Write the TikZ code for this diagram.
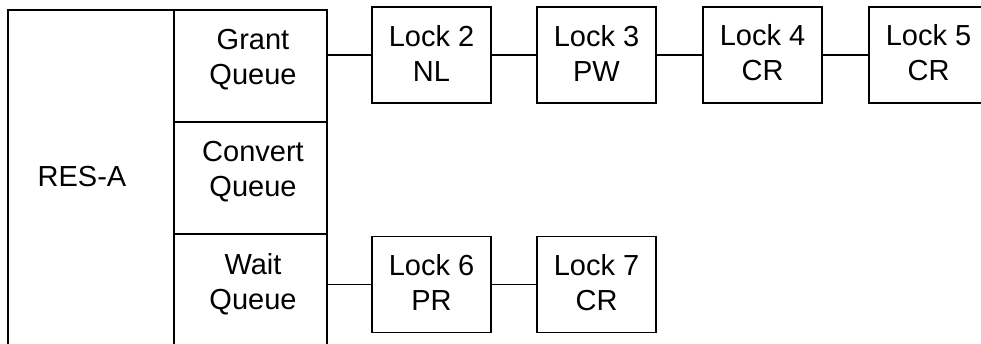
\documentclass[tikz,border=0pt]{standalone}
\usepackage{fontspec}
\setmainfont{Liberation Sans}
\begin{document}
\begin{tikzpicture}[x=1pt,y=-1pt,
  box/.style={draw=black, line width=1.6pt, rectangle, inner sep=0pt},
  lbl/.style={align=center, font=\fontsize{29}{35}\selectfont, inner sep=0pt},
  link/.style={draw=black, line width=1.6pt}]
\useasboundingbox (0,0) rectangle (981,343);
\clip (0,0) rectangle (981,343);
\fill[white] (0,0) rectangle (981,343);
% resource and queues
\node[box, minimum width=166pt, minimum height=350pt] (res) at (91,185) {};
\node[lbl] (restext) at ([xshift=-9pt]res.center |- 0,177) {RES-A};
\node[box, minimum width=153pt, minimum height=112pt] (grant) at (250.5,66) {};
\node[box, minimum width=153pt, minimum height=112pt] (convert) at (250.5,178) {};
\node[box, minimum width=153pt, minimum height=120pt] (wait) at (250.5,294) {};
\node[lbl] (granttext) at (253,60) {Grant\\Queue};
\node[lbl] (converttext) at (253,172) {Convert\\Queue};
\node[lbl] (waittext) at (253,284) {Wait\\Queue};
% locks
\foreach \n/\x/\y/\a/\b in {l2/431.5/55/Lock 2/NL, l3/596.5/55/Lock 3/PW, l4/762.5/55/Lock 4/CR, l5/928.5/55/Lock 5/CR, l6/431.5/284.5/Lock 6/PR, l7/596.5/284.5/Lock 7/CR}{
  \node[box, minimum width=119pt, minimum height=96pt] (\n) at (\x,\y) {};
  \node[lbl] (\n text) at ([yshift=2pt]\n.center) {\a\\\b};
}
% connectors
\draw[link] (l2.west -| grant.east) -- (l2.west);
\draw[link] (l2.east) -- (l3.west);
\draw[link] (l3.east) -- (l4.west);
\draw[link] (l4.east) -- (l5.west);
\draw[link] (l6.west -| wait.east) -- (l6.west);
\draw[link] (l6.east) -- (l7.west);
\end{tikzpicture}
\end{document}
